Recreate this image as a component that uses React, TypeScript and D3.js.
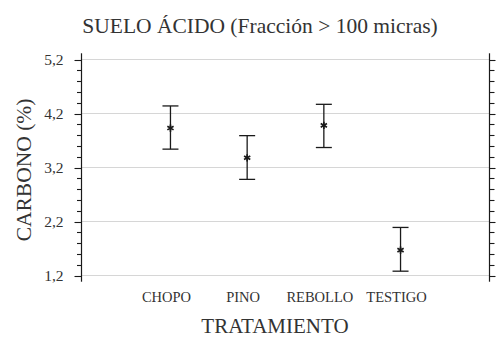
import React, { useEffect, useRef } from 'react';
import * as d3 from 'd3';

// values
const categories = ['CHOPO', 'PINO', 'REBOLLO', 'TESTIGO'];
const means = [3.93, 3.38, 3.98, 1.67];
const upper = [4.34, 3.79, 4.37, 2.09];
const lower = [3.54, 2.98, 3.57, 1.28];
const tickValues = [1.2, 2.2, 3.2, 4.2, 5.2];
const tickLabels = ['1,2', '2,2', '3,2', '4,2', '5,2'];

const W = 496;
const H = 338;
const FONT = '"Liberation Serif", "DejaVu Serif", "Times New Roman", serif';

const App: React.FC = () => {
  const ref = useRef<SVGSVGElement | null>(null);

  useEffect(() => {
    if (!ref.current) return;
    const svg = d3.select(ref.current);
    svg.selectAll('*').remove();

    /* Layout */
    const left = 81.5;
    const right = 489.5;

    const y = d3.scaleLinear().domain([1.2, 5.2]).range([275.5, 59.5]);
    const x = d3.scalePoint<string>().domain(categories).range([left, right]).padding(1.16);

    const ink = '#1a1a1a';

    // gridlines
    svg
      .append('g')
      .selectAll('line')
      .data(tickValues)
      .enter()
      .append('line')
      .attr('x1', left)
      .attr('x2', right)
      .attr('y1', d => y(d))
      .attr('y2', d => y(d))
      .attr('stroke', '#d6d6d6')
      .attr('stroke-width', 1);

    // minor ticks every 0.2
    const minor = d3.range(0, 21).map(i => 1.2 + i * 0.2);

    // left axis
    const gl = svg.append('g');
    gl.append('line')
      .attr('x1', left)
      .attr('x2', left)
      .attr('y1', y(1.085))
      .attr('y2', y(5.315))
      .attr('stroke', ink)
      .attr('stroke-width', 1.2);
    gl.selectAll('line.minor')
      .data(minor)
      .enter()
      .append('line')
      .attr('class', 'minor')
      .attr('x1', (d, i) => (i % 5 === 0 ? left - 7 : left - 4.5))
      .attr('x2', left)
      .attr('y1', d => Math.round(y(d)) + 0.5)
      .attr('y2', d => Math.round(y(d)) + 0.5)
      .attr('stroke', ink)
      .attr('stroke-width', 1.1);
    gl.selectAll('text')
      .data(tickValues)
      .enter()
      .append('text')
      .attr('x', 63.5)
      .attr('y', d => y(d) + 5)
      .attr('text-anchor', 'end')
      .attr('font-family', FONT)
      .attr('font-size', 15.5)
      .attr('fill', '#333')
      .text((d, i) => tickLabels[i]);

    // right axis
    const gr = svg.append('g');
    gr.append('line')
      .attr('x1', right)
      .attr('x2', right)
      .attr('y1', y(1.085))
      .attr('y2', y(5.315))
      .attr('stroke', ink)
      .attr('stroke-width', 1.2);
    gr.selectAll('line.minor')
      .data(minor)
      .enter()
      .append('line')
      .attr('class', 'minor')
      .attr('x1', right)
      .attr('x2', (d, i) => (i % 5 === 0 ? right + 6 : right + 5))
      .attr('y1', d => Math.round(y(d)) + 0.5)
      .attr('y2', d => Math.round(y(d)) + 0.5)
      .attr('stroke', ink)
      .attr('stroke-width', 1.1);

    // category labels
    svg
      .append('g')
      .selectAll('text')
      .data(categories)
      .enter()
      .append('text')
      .attr('x', d => x(d)! - 4)
      .attr('y', 301.5)
      .attr('text-anchor', 'middle')
      .attr('font-family', FONT)
      .attr('font-size', 14.5)
      .attr('fill', '#333')
      .text(d => d);

    // error bars
    const cap = 8;
    const bars = svg
      .append('g')
      .selectAll('g')
      .data(categories)
      .enter()
      .append('g')
      .attr('stroke', ink)
      .attr('stroke-width', 1.3)
      .attr('fill', 'none');
    bars
      .append('line')
      .attr('x1', d => x(d)!)
      .attr('x2', d => x(d)!)
      .attr('y1', (d, i) => y(upper[i]))
      .attr('y2', (d, i) => y(lower[i]));
    bars
      .append('line')
      .attr('x1', d => x(d)! - cap)
      .attr('x2', d => x(d)! + cap)
      .attr('y1', (d, i) => y(upper[i]))
      .attr('y2', (d, i) => y(upper[i]));
    bars
      .append('line')
      .attr('x1', d => x(d)! - cap)
      .attr('x2', d => x(d)! + cap)
      .attr('y1', (d, i) => y(lower[i]))
      .attr('y2', (d, i) => y(lower[i]));
    bars
      .append('path')
      .attr('d', d3.symbol().type(d3.symbolAsterisk).size(36)() as string)
      .attr('transform', (d, i) => `translate(${x(d)},${y(means[i])})`)
      .attr('stroke-width', 1.7);

    // titles
    svg
      .append('text')
      .attr('x', 260)
      .attr('y', 33)
      .attr('text-anchor', 'middle')
      .attr('font-family', FONT)
      .attr('font-size', 21.5)
      .attr('fill', '#333')
      .text('SUELO ÁCIDO (Fracción > 100 micras)');

    svg
      .append('text')
      .attr('x', 275)
      .attr('y', 332.5)
      .attr('text-anchor', 'middle')
      .attr('font-family', FONT)
      .attr('font-size', 21)
      .attr('fill', '#333')
      .text('TRATAMIENTO');

    svg
      .append('text')
      .attr('transform', 'translate(31,170) rotate(-90)')
      .attr('text-anchor', 'middle')
      .attr('font-family', FONT)
      .attr('font-size', 21.5)
      .attr('fill', '#333')
      .text('CARBONO (%)');
  }, []);

  return (
    <svg
      ref={ref}
      width={W}
      height={H}
      style={{ position: 'absolute', left: 0, top: 0, background: '#fff' }}
    />
  );
};

export default App;
